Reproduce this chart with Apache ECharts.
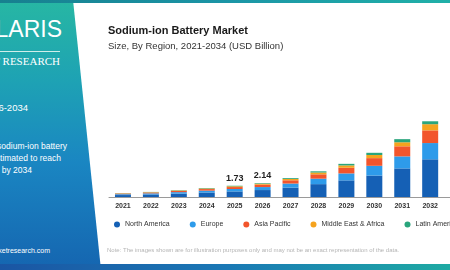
<!DOCTYPE html>
<html>
<head>
<meta charset="utf-8">
<script src="https://cdn.jsdelivr.net/npm/echarts@6/dist/echarts.min.js"></script>
<style>
  html, body { margin: 0; padding: 0; width: 450px; height: 270px; overflow: hidden; background: #fff; font-family: "Liberation Sans", Arial, sans-serif; }
  .panel { position: absolute; left: 0; top: 0; width: 110px; height: 270px;
    background: linear-gradient(180deg, #27b7a3 0%, #1ea2b4 30%, #1a86c2 60%, #1565b0 100%);
    clip-path: polygon(0 0, 73px 0, 101px 270px, 0 270px); }
  .topband { position: absolute; left: 0; top: 0; width: 450px; height: 3px;
    background: linear-gradient(90deg, #17808f, #1b95a6 50%, #20b0a8); }
  .botband { position: absolute; left: 0; top: 264px; width: 450px; height: 6px;
    background: linear-gradient(90deg, #1a55a3, #1a78b5 50%, #1eaaa3); }
  .pt { position: absolute; color: #fff; white-space: nowrap; text-align: right; }
  #chart { position: absolute; left: 0; top: 0; width: 520px; height: 270px; }
</style>
</head>
<body>
<div class="panel"></div>
<div class="topband"></div>
<div class="botband"></div>
<div class="pt" style="left:-140px; width:202px; top:16px; font-size:23px; font-family:'Liberation Sans'; font-weight:300;">POLARIS</div>
<div style="position:absolute; left:0; top:51px; width:60px; height:1px; background:#cfeeea;"></div>
<div class="pt" style="left:-140px; width:200px; top:55px; font-size:11px; font-family:'Liberation Serif', serif;">MARKET RESEARCH</div>
<div class="pt" style="left:-140px; width:168px; top:102px; font-size:9.5px;">2026-2034</div>
<div class="pt" style="left:-140px; width:207px; top:141px; font-size:8.5px;">sodium-ion battery</div>
<div class="pt" style="left:-140px; width:201px; top:153px; font-size:8.5px;">estimated to reach</div>
<div class="pt" style="left:-140px; width:172px; top:165px; font-size:8.5px;">by 2034</div>
<div class="pt" style="left:-140px; width:190px; top:247px; font-size:7px;">www.polarismarketresearch.com</div>
<div id="chart"></div>
<script>
const years = ['2021', '2022', '2023', '2024', '2025', '2026', '2027', '2028', '2029', '2030', '2031', '2032', '2033', '2034'];
const northAmerica = [0.30, 0.39, 0.52, 0.69, 0.86, 1.07, 1.45, 1.98, 2.56, 3.30, 4.40, 5.80, 7.90, 10.40];
const europe       = [0.13, 0.17, 0.23, 0.29, 0.37, 0.46, 0.62, 0.84, 1.07, 1.50, 1.85, 2.50, 3.40, 4.40];
const asiaPacific  = [0.10, 0.13, 0.18, 0.24, 0.30, 0.37, 0.50, 0.67, 0.87, 1.18, 1.55, 1.95, 2.70, 3.50];
const middleEast   = [0.04, 0.05, 0.07, 0.09, 0.12, 0.15, 0.20, 0.28, 0.36, 0.48, 0.62, 0.95, 1.30, 1.70];
const latinAmerica = [0.03, 0.04, 0.05, 0.07, 0.08, 0.09, 0.13, 0.18, 0.24, 0.34, 0.48, 0.45, 0.70, 0.90];
const labelYears = ['2025', '2026'];

const seriesDefs = [
  { name: 'North America', data: northAmerica, color: '#1560b5' },
  { name: 'Europe', data: europe, color: '#2e9bea' },
  { name: 'Asia Pacific', data: asiaPacific, color: '#f2552c' },
  { name: 'Middle East & Africa', data: middleEast, color: '#f5a31e' },
  { name: 'Latin America', data: latinAmerica, color: '#2aa57c' }
];

const totals = years.map((y, i) => seriesDefs.reduce((s, d) => s + d.data[i], 0));

const chart = echarts.init(document.getElementById('chart'), null, { renderer: 'canvas' });

const series = seriesDefs.map((d, idx) => {
  const s = {
    name: d.name,
    type: 'bar',
    stack: 'total',
    barWidth: 16,
    data: d.data,
    itemStyle: { color: d.color },
    emphasis: { disabled: true }
  };
  // total label only on the top segment
  if (idx === seriesDefs.length - 1) {
    s.label = {
      show: true,
      position: 'top',
      distance: 3,
      fontSize: 9,
      fontWeight: 'bold',
      color: '#222',
      fontFamily: 'Liberation Sans',
      formatter: p => labelYears.includes(p.name) ? totals[p.dataIndex].toFixed(2) : ''
    };
  }
  return s;
});

chart.setOption({
  backgroundColor: 'transparent',
  animation: false,
  title: {
    text: 'Sodium-ion Battery Market',
    subtext: 'Size, By Region, 2021-2034 (USD Billion)',
    left: 103,
    top: 20,
    itemGap: 5,
    textStyle: { fontSize: 11, fontWeight: 'bold', color: '#1a1a1a', fontFamily: 'Liberation Sans' },
    subtextStyle: { fontSize: 9.5, color: '#333', fontFamily: 'Liberation Sans' }
  },
  legend: {
    left: 109,
    top: 216,
    width: 410,
    icon: 'circle',
    itemWidth: 6,
    itemHeight: 6,
    itemGap: 20,
    textStyle: { fontSize: 7, color: '#333', fontFamily: 'Liberation Sans' },
    data: seriesDefs.map(d => d.name)
  },
  grid: { left: 109, top: 41, width: 391, height: 156 },
  xAxis: {
    type: 'category',
    data: years,
    axisLine: { lineStyle: { color: '#9a9a9a', width: 1 } },
    axisTick: { show: false },
    axisLabel: { fontSize: 7, fontWeight: 'bold', color: '#333', margin: 6, fontFamily: 'Liberation Sans' }
  },
  yAxis: {
    type: 'value',
    min: 0,
    max: 24,
    show: false,
    splitLine: { show: false }
  },
  graphic: [{
    type: 'text',
    left: 107,
    top: 247,
    style: {
      text: 'Note: The images shown are for illustration purposes only and may not be an exact representation of the data.',
      fontSize: 6,
      fill: '#b5b5b5',
      fontFamily: 'Liberation Sans'
    }
  }],
  series: series
});
</script>
</body>
</html>
